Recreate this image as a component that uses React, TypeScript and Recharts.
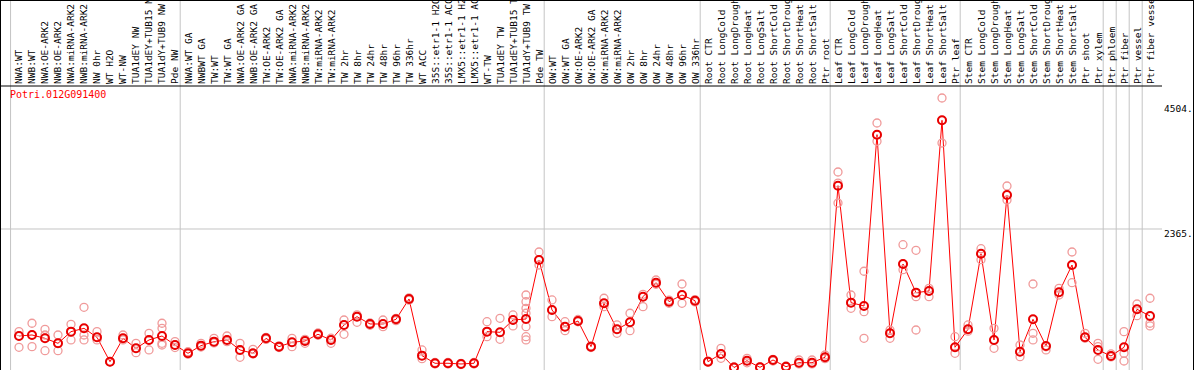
import {
  ComposedChart, Line, Scatter, XAxis, YAxis, ReferenceLine,
} from 'recharts';

const categories = [
  'NWA:WT', 'NWB:WT', 'NWA:OE-ARK2', 'NWB:OE-ARK2', 'NWA:miRNA-ARK2', 'NWB:miRNA-ARK2',
  'NW 0hr', 'WT H2O', 'WT-NW', 'TUA1dEY NW', 'TUA1dEY+TUB15 NW', 'TUA1dY+TUB9 NW', 'Pde NW',
  'NWA:WT GA', 'NWBWT GA', 'TW:WT', 'TW:WT GA', 'NWA:OE-ARK2 GA', 'NWB:OE-ARK2 GA',
  'TW:OE-ARK2', 'TW:OE-ARK2 GA', 'NWA:miRNA-ARK2', 'NWB:miRNA-ARK2', 'TW:miRNA-ARK2',
  'TW:miRNA-ARK2', 'TW 2hr', 'TW 8hr', 'TW 24hr', 'TW 48hr', 'TW 96hr', 'TW 336hr', 'WT ACC',
  '35S::etr1-1 H2O', '35S::etr1-1 ACC', 'LMX5::etr1-1 H2O', 'LMX5::etr1-1 ACC', 'WT-TW',
  'TUA1dEY TW', 'TUA1dEY+TUB15 TW', 'TUA1dY+TUB9 TW', 'Pde TW',
  'OW:WT', 'OW:WT GA', 'OW:OE-ARK2', 'OW:OE-ARK2 GA', 'OW:miRNA-ARK2', 'OW:miRNA-ARK2',
  'OW 2hr', 'OW 8hr', 'OW 24hr', 'OW 48hr', 'OW 96hr', 'OW 336hr',
  'Root CTR', 'Root LongCold', 'Root LongDrought', 'Root LongHeat', 'Root LongSalt',
  'Root ShortCold', 'Root ShortDrought', 'Root ShortHeat', 'Root ShortSalt', 'Ptr root',
  'Leaf CTR', 'Leaf LongCold', 'Leaf LongDrought', 'Leaf LongHeat', 'Leaf LongSalt',
  'Leaf ShortCold', 'Leaf ShortDrought', 'Leaf ShortHeat', 'Leaf ShortSalt', 'Ptr leaf',
  'Stem CTR', 'Stem LongCold', 'Stem LongDrought', 'Stem LongHeat', 'Stem LongSalt',
  'Stem ShortCold', 'Stem ShortDrought', 'Stem ShortHeat', 'Stem ShortSalt', 'Ptr shoot',
  'Ptr xylem', 'Ptr phloem', 'Ptr fiber', 'Ptr vessel', 'Ptr fiber vessel',
];

// mean expression per sample
const means = [
  538, 555, 498, 413, 612, 669, 515, 99, 498, 327, 470, 538, 384,
  242, 373, 441, 470, 299, 242, 498, 356, 430, 452, 567, 470, 726, 868, 743, 743, 823, 1170,
  202, 72, 72, 60, 72, 612, 601, 811, 828, 1836,
  982, 697, 794, 356, 1096, 652, 772, 1209, 1448, 1124, 1238, 1141,
  99, 231, 0, 116, 3, 128, 14, 82, 82, 174,
  3105, 1107, 1050, 3976, 584, 1767, 1278, 1306, 4221, 345,
  652, 1943, 470, 2946, 270, 823, 367, 1284, 1750, 515, 299, 196, 345, 994, 879,
];

// replicates
const rep1 = [
  612, 755, 652, 555, 737, 1028, 612, 99, 555, 413, 584, 755, 384,
  270, 413, 498, 538, 413, 310, 515, 356, 498, 413, 567, 413, 811, 772, 743, 811, 823, 1170,
  299, 72, 72, 60, 72, 782, 840, 897, 1238, 1972,
  1153, 782, 794, 356, 1182, 584, 629, 1039, 1494, 1096, 1426, 1141,
  99, 328, 0, 157, 3, 128, 14, 128, 128, 213,
  3338, 1238, 1643, 4175, 640, 2097, 2001, 1352, 4602, 526,
  726, 2029, 669, 3099, 384, 1426, 299, 1352, 1448, 584, 413, 231, 612, 1084, 1182,
];
const rep2 = [
  345, 356, 555, 287, 470, 555, 470, 99, 470, 253, 299, 669, 441,
  228, 373, 441, 470, 174, 242, 498, 340, 356, 452, 550, 470, 567, 868, 720, 697, 800, 1150,
  202, 60, 60, 50, 60, 526, 481, 709, 1124, 1750,
  868, 629, 780, 340, 1039, 726, 926, 1209, 1448, 1124, 1096, 1120,
  90, 157, 10, 116, 10, 110, 5, 82, 82, 174,
  2809, 1011, 953, 3863, 498, 1670, 1209, 1209, 3834, 242,
  652, 1841, 328, 2860, 184, 584, 353, 1238, 1972, 515, 140, 196, 111, 885, 755,
];
const rep3 = [
  540, 555, 287, 413, 612, 470, 515, 99, 498, 327, 470, 413, 340,
  242, 350, 420, 440, 299, 230, 480, 370, 430, 480, 590, 500, 726, 900, 760, 743, 840, 1190,
  150, 85, 85, 70, 85, 612, 601, 811, 1011, 1836,
  982, 697, 820, 370, 1096, 652, 772, 1250, 1420, 1150, 1238, 1160,
  110, 231, 5, 80, 0, 140, 25, 60, 60, 150,
  3150, 1107, 498, 3976, 584, 1767, 640, 1306, 4221, 345,
  620, 1943, 470, 2946, 270, 470, 367, 1284, 1750, 500, 356, 180, 242, 994, 709,
];
// extra replicates for the few samples that have more than three
const repExtraIdx = [11, 39, 39, 39, 39];
const repExtraVal = [384, 926, 697, 470, 526];

const boundaries = [-0.65, 12.4, 40.4, 52.4, 62.4, 72.4, 83.4, 84.4, 85.4, 86.4];
const yTicks = [0, 2365, 4504];

const data = means.map((m, i) => ({ x: i, mean: m }));
const reps = [
  ...[rep1, rep2, rep3].flatMap((r) => r.map((v, i) => ({ x: i, y: v }))),
  ...repExtraIdx.map((i, k) => ({ x: i, y: repExtraVal[k] })),
];

const FONT = '"DejaVu Sans Mono", "Liberation Mono", monospace';

function CatTick({ x, y, payload }: any) {
  return (
    <text
      transform={`translate(${x + 3.5},${y}) rotate(-90)`}
      fontFamily={FONT}
      fontSize={9.5}
      fill="#000"
      textAnchor="start"
    >
      {categories[payload.value]}
    </text>
  );
}

function ValTick({ x, y, payload }: any) {
  const v = payload.value;
  return (
    <text
      x={x}
      y={v === 0 ? y - 8 : y + 1}
      dominantBaseline="hanging"
      fontFamily={FONT}
      fontSize={9.5}
      fill="#000"
    >
      {v === 0 ? '0' : `${v}.`}
    </text>
  );
}

const RepDot = (p: any) => (
  <circle cx={p.cx} cy={p.cy} r={4} fill="none" stroke="#f09a9a" strokeWidth={1.3} />
);

export default function App() {
  return (
    <div style={{ position: 'relative', width: 1192, height: 369, border: '1px solid #000', borderBottom: 'none', background: '#fff' }}>
      <style>{'body{margin:0}'}</style>
      <ComposedChart width={1192} height={369} data={data} margin={{ top: 0, right: 0, left: 0, bottom: 0 }}>
        <XAxis
          type="number"
          dataKey="x"
          orientation="top"
          height={85}
          domain={[-1.3846, 87.923]}
          ticks={categories.map((_, i) => i)}
          interval={0}
          tickSize={0}
          tickMargin={2}
          tick={<CatTick />}
          axisLine={{ stroke: '#000', strokeWidth: 1 }}
          allowDataOverflow
        />
        <YAxis
          type="number"
          orientation="right"
          width={31}
          domain={[-43, 4807]}
          ticks={yTicks}
          tickSize={0}
          tickMargin={2}
          tick={<ValTick />}
          axisLine={false}
          allowDataOverflow
        />
        <ReferenceLine y={2365} stroke="#c4c4c4" strokeWidth={1} />
        {boundaries.map((b) => (
          <ReferenceLine
            key={b}
            segment={[{ x: b, y: -43 }, { x: b, y: 6260 }]}
            stroke="#c4c4c4"
            strokeWidth={1}
            ifOverflow="visible"
          />
        ))}
        <Scatter data={reps} dataKey="y" shape={RepDot} isAnimationActive={false} />
        <Line
          type="linear"
          dataKey="mean"
          stroke="#ff0000"
          strokeWidth={1}
          dot={{ r: 4, stroke: '#e80000', strokeWidth: 2, fill: 'none' }}
          isAnimationActive={false}
        />
      </ComposedChart>
      <div style={{ position: 'absolute', left: 9, top: 88, color: '#ff0000', fontFamily: FONT, fontSize: 10 }}>
        Potri.012G091400
      </div>
    </div>
  );
}
